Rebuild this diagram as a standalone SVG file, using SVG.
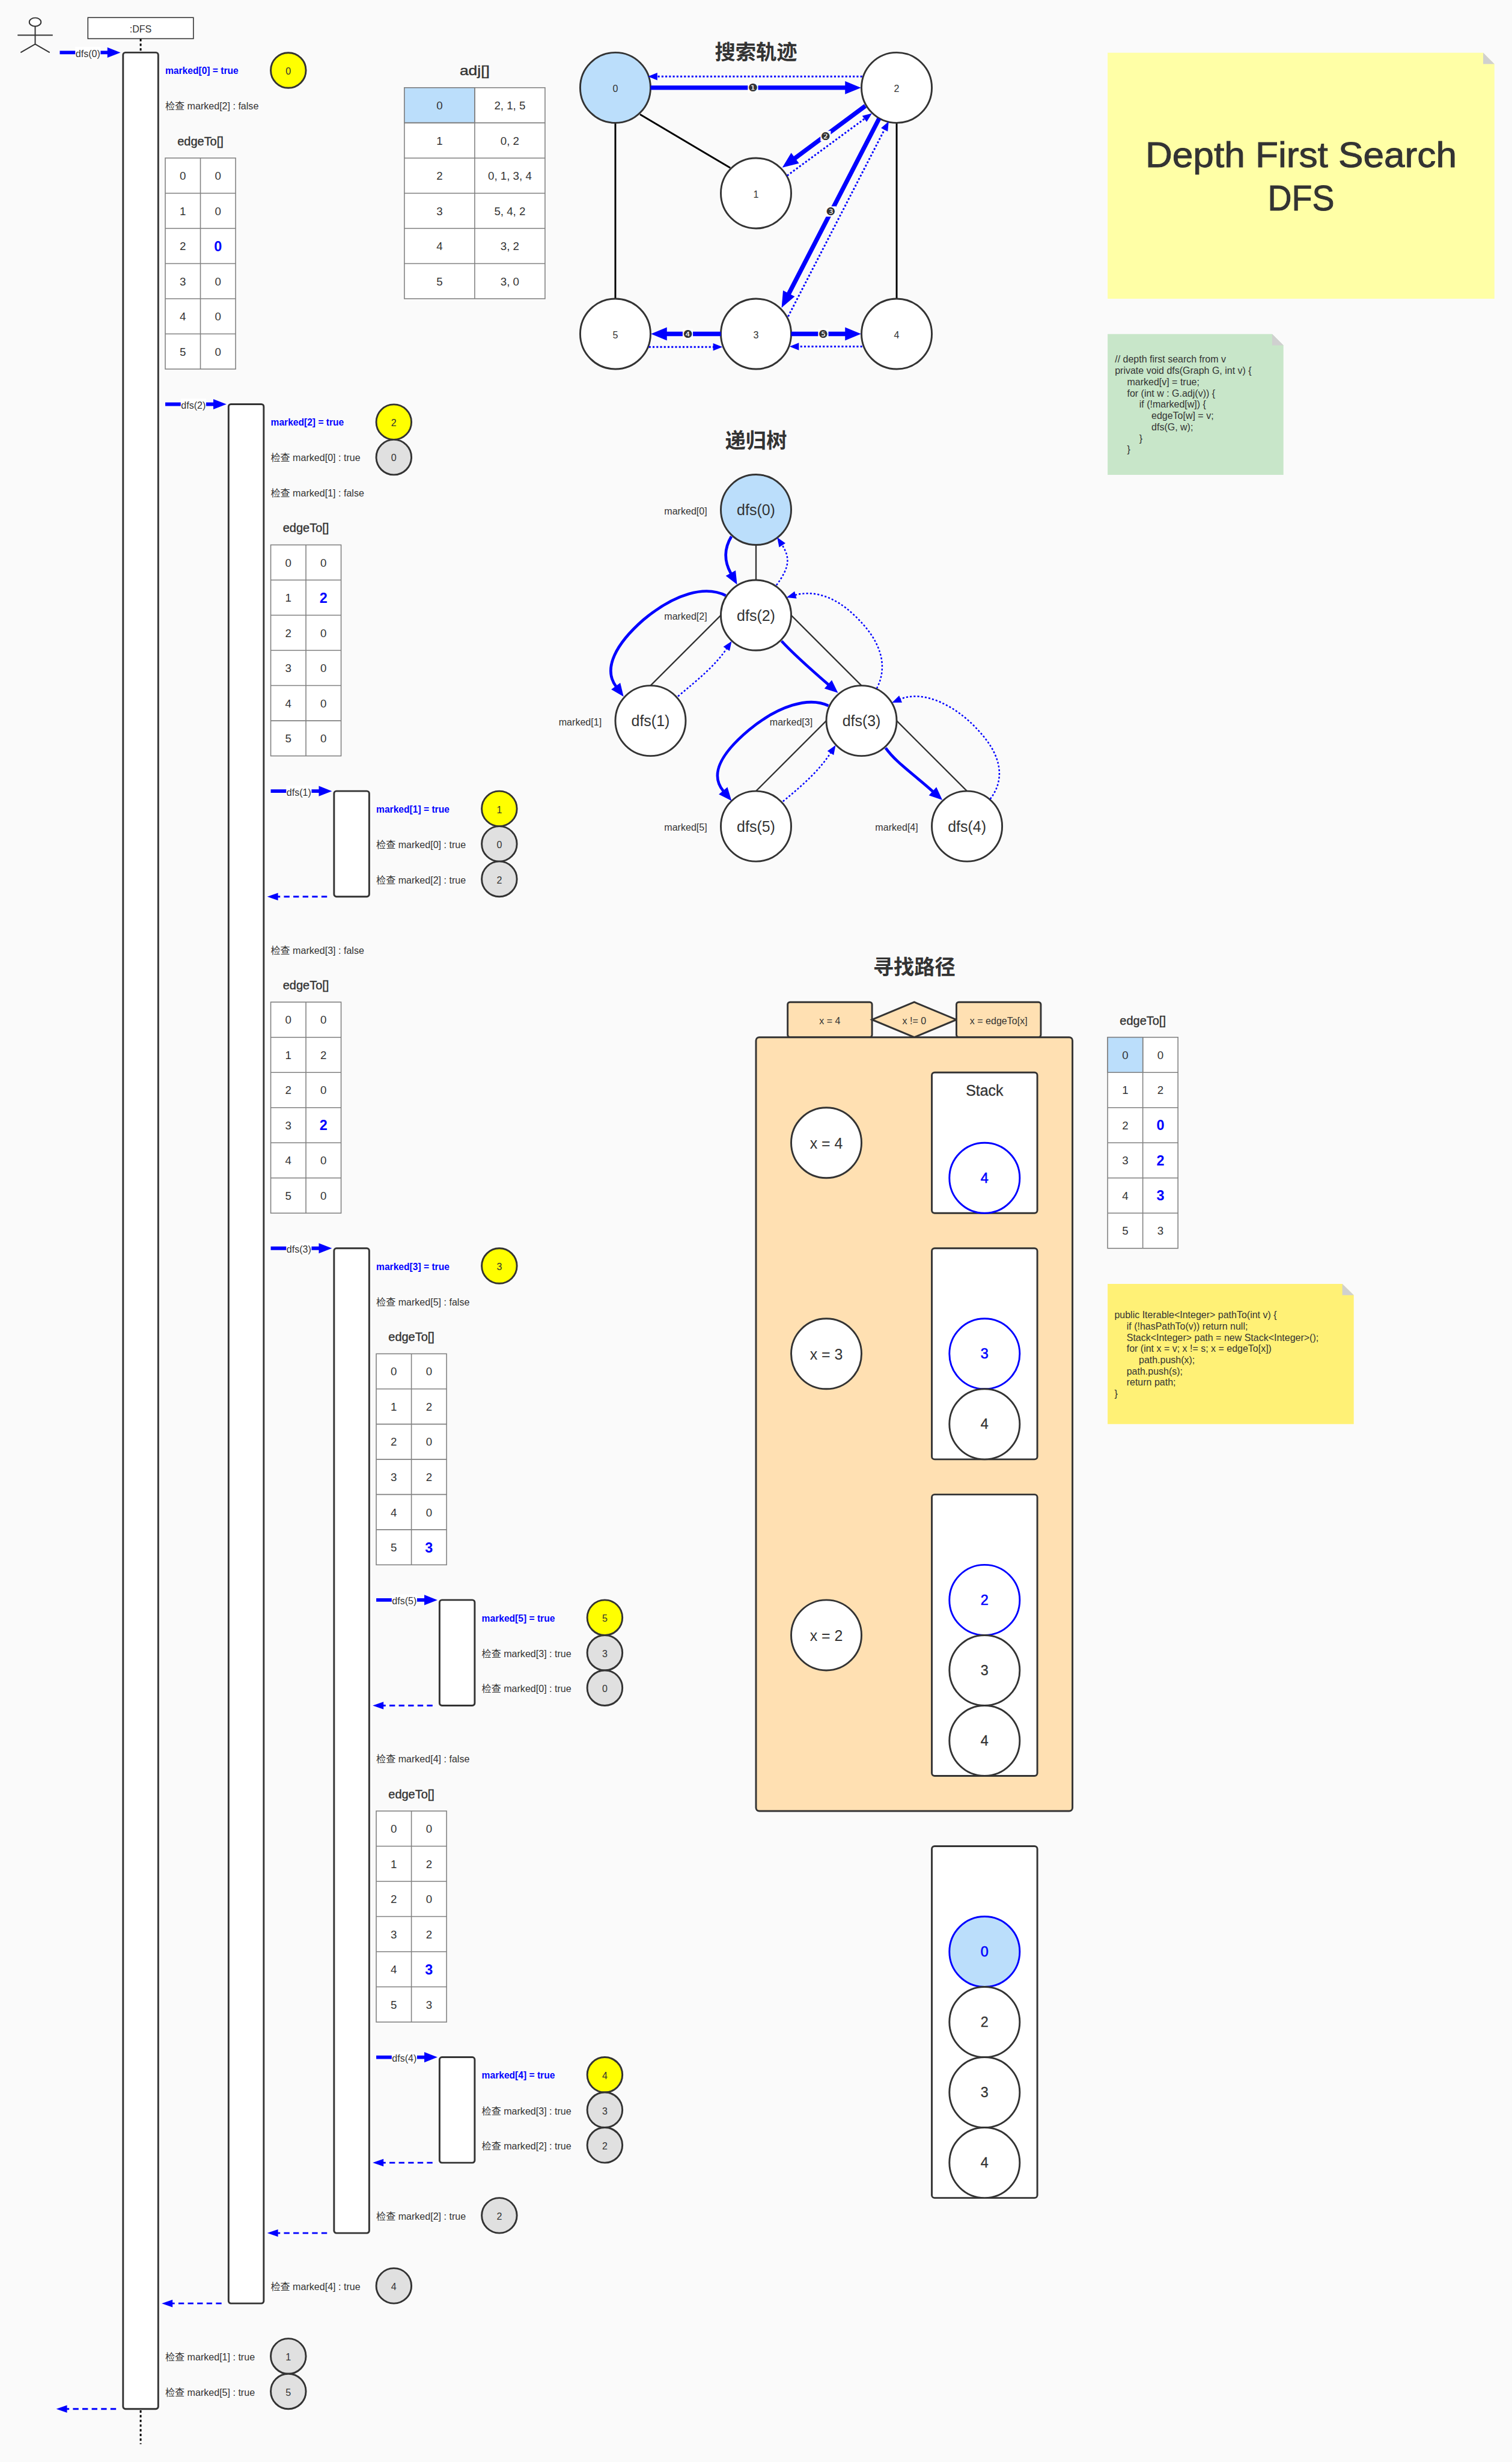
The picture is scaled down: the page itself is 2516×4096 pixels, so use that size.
<svg xmlns="http://www.w3.org/2000/svg" xmlns:xlink="http://www.w3.org/1999/xlink" width="2516" height="4096" viewBox="0 0 2516 4096">
<style>
text{font-family:"Liberation Sans","Noto Sans CJK SC",sans-serif;font-size:20.6px;fill:#333;dominant-baseline:central}
.m{text-anchor:middle}
.b{font-size:20px;font-weight:700;fill:#00f}
.c{font-size:24px;text-anchor:middle}
.v{font-size:30px;font-weight:700;fill:#00f;text-anchor:middle}
.h{font-size:25.6px;stroke:#333;stroke-width:.5;text-anchor:middle}
.ti{font-size:44px;font-weight:700;text-anchor:middle}
.n{font-size:32px;text-anchor:middle}
.d{font-size:30px;text-anchor:middle;stroke:#333;stroke-width:.4}
.db{font-size:30px;text-anchor:middle;fill:#00f;stroke:#00f;stroke-width:.8}
.k{font-size:20.5px}
.big{font-size:75px;text-anchor:middle;stroke:#333;stroke-width:1.2}
.num{font-family:"DejaVu Sans",sans-serif;font-size:23px;text-anchor:middle}
.ac{fill:#fff;stroke:#333;stroke-width:3.75}
.y{fill:#ff0;stroke:#333;stroke-width:3.75}
.g{fill:#e0e0e0;stroke:#333;stroke-width:3.75}
.w{fill:#fff;stroke:#333;stroke-width:3.75}
.o{fill:#ffe0b2;stroke:#333;stroke-width:3.75}
.bl{fill:#bbdefb;stroke:#333;stroke-width:3.75}
.bw{fill:#fff;stroke:#00f;stroke-width:3.75}
.tb{fill:#fff;stroke:#808080;stroke-width:2}
.lb{fill:#fff}
.e{fill:none;stroke:#000;stroke-width:3.75}
.e2{fill:none;stroke:#333;stroke-width:3}
.ll{fill:none;stroke:#000;stroke-width:3.75;stroke-dasharray:5 5}
.sq{fill:none;stroke:#00f;stroke-width:7.5;marker-end:url(#hs)}
.rt{fill:none;stroke:#00f;stroke-width:3.75;stroke-dasharray:12 8;marker-end:url(#hr)}
.th{fill:none;stroke:#00f;stroke-width:9.4;marker-end:url(#hb)}
.dt{fill:none;stroke:#00f;stroke-width:3.75;stroke-dasharray:4 4;marker-end:url(#hd)}
.tt{fill:none;stroke:#00f;stroke-width:6;marker-end:url(#ht)}
.ts{fill:none;stroke:#00f;stroke-width:3.2;stroke-dasharray:4 4;marker-end:url(#hd)}
</style>
<defs>
<marker id="hs" markerUnits="userSpaceOnUse" markerWidth="40" markerHeight="30" refX="1" refY="15" orient="auto" overflow="visible"><path d="M0 4L28 15L0 26z" fill="#00f"/></marker>
<marker id="hr" markerUnits="userSpaceOnUse" markerWidth="40" markerHeight="30" refX="1" refY="15" orient="auto" overflow="visible"><path d="M0 7L23 15L0 23z" fill="#00f"/></marker>
<marker id="hb" markerUnits="userSpaceOnUse" markerWidth="40" markerHeight="30" refX="1" refY="15" orient="auto" overflow="visible"><path d="M0 1L34 15L0 29z" fill="#00f"/></marker>
<marker id="hd" markerUnits="userSpaceOnUse" markerWidth="40" markerHeight="30" refX="1" refY="15" orient="auto" overflow="visible"><path d="M0 7L20 15L0 23z" fill="#00f"/></marker>
<marker id="ht" markerUnits="userSpaceOnUse" markerWidth="40" markerHeight="30" refX="1" refY="15" orient="auto" overflow="visible"><path d="M0 3L28 15L0 27z" fill="#00f"/></marker>
<g id="grid"><rect class="tb" width="150" height="450"/><path class="tb" d="M75 0V450M0 75H150M0 150H150M0 225H150M0 300H150M0 375H150"/></g>
</defs>
<rect width="2516" height="4096" fill="#fafafa"/>
<g transform="scale(0.78016)">

<g id="actor" fill="none" stroke="#333" stroke-width="2.5"><ellipse cx="75" cy="47" rx="12.5" ry="9" fill="#fff"/><path d="M75 56V94M37.500 75H112.500M44 112L75 94L106 112"/></g>
<g id="dfs-box"><rect x="187.500" y="37.500" width="225" height="45" fill="#fff" stroke="#333" stroke-width="2"/><text class="m" x="300" y="61">:DFS</text></g>

<g id="activations">
<rect class="ac" x="262.500" y="112" width="75" height="5025" rx="5"/>
<rect class="ac" x="487.500" y="862" width="75" height="4050" rx="5"/>
<rect class="ac" x="712.500" y="1687" width="75" height="225" rx="5"/>
<rect class="ac" x="712.500" y="2662" width="75" height="2100" rx="5"/>
<rect class="ac" x="937.500" y="3412" width="75" height="225" rx="5"/>
<rect class="ac" x="937.500" y="4387" width="75" height="225" rx="5"/>
</g>

<g id="seq-connectors">
<path class="ll" d="M300 83V112M300 5140V5212"/>
<path class="sq" d="M127.500 112H230"/><path class="sq" d="M352.500 862H456"/><path class="sq" d="M577.500 1687H681"/><path class="sq" d="M577.500 2662H681"/><path class="sq" d="M802.500 3412H906"/><path class="sq" d="M802.500 4387H906"/>
<path class="rt" d="M697.600 1912H592"/><path class="rt" d="M922.600 3637H817"/><path class="rt" d="M922.600 4612H817"/><path class="rt" d="M697.600 4762H592"/><path class="rt" d="M472.600 4912H367"/><path class="rt" d="M247.600 5137H142"/>
<rect class="lb" x="160.500" y="100" width="54" height="24"/><text class="m" x="187.500" y="114">dfs(0)</text>
<rect class="lb" x="385.500" y="850" width="54" height="24"/><text class="m" x="412.500" y="864">dfs(2)</text>
<rect class="lb" x="610.500" y="1675" width="54" height="24"/><text class="m" x="637.500" y="1689">dfs(1)</text>
<rect class="lb" x="610.500" y="2650" width="54" height="24"/><text class="m" x="637.500" y="2664">dfs(3)</text>
<rect class="lb" x="835.500" y="3400" width="54" height="24"/><text class="m" x="862.500" y="3414">dfs(5)</text>
<rect class="lb" x="835.500" y="4375" width="54" height="24"/><text class="m" x="862.500" y="4389">dfs(4)</text>
</g>

<g id="step-dfs0">
<text class="b" x="352.500" y="151">marked[0] = true</text>
<circle class="y" cx="615" cy="150" r="37.500"/><text class="m" x="615" y="151">0</text>
<text x="352.500" y="226">检查 marked[2] : false</text>
<text class="h" x="427.500" y="301">edgeTo[]</text>
<use href="#grid" x="352.500" y="337"/>
<text class="c" x="390" y="375">0</text><text class="c" x="465" y="375">0</text>
<text class="c" x="390" y="450">1</text><text class="c" x="465" y="450">0</text>
<text class="c" x="390" y="525">2</text><text class="v" x="465" y="525">0</text>
<text class="c" x="390" y="600">3</text><text class="c" x="465" y="600">0</text>
<text class="c" x="390" y="675">4</text><text class="c" x="465" y="675">0</text>
<text class="c" x="390" y="750">5</text><text class="c" x="465" y="750">0</text>
</g>

<g id="step-dfs2">
<text class="b" x="577.500" y="901">marked[2] = true</text>
<circle class="y" cx="840" cy="900" r="37.500"/><text class="m" x="840" y="901">2</text>
<text x="577.500" y="976">检查 marked[0] : true</text>
<circle class="g" cx="840" cy="975" r="37.500"/><text class="m" x="840" y="976">0</text>
<text x="577.500" y="1051">检查 marked[1] : false</text>
<text class="h" x="652.500" y="1126">edgeTo[]</text>
<use href="#grid" x="577.500" y="1162"/>
<text class="c" x="615" y="1200">0</text><text class="c" x="690" y="1200">0</text>
<text class="c" x="615" y="1275">1</text><text class="v" x="690" y="1275">2</text>
<text class="c" x="615" y="1350">2</text><text class="c" x="690" y="1350">0</text>
<text class="c" x="615" y="1425">3</text><text class="c" x="690" y="1425">0</text>
<text class="c" x="615" y="1500">4</text><text class="c" x="690" y="1500">0</text>
<text class="c" x="615" y="1575">5</text><text class="c" x="690" y="1575">0</text>
</g>

<g id="step-dfs1">
<text class="b" x="802.500" y="1726">marked[1] = true</text>
<circle class="y" cx="1065" cy="1724.500" r="37.500"/><text class="m" x="1065" y="1726">1</text>
<text x="802.500" y="1801">检查 marked[0] : true</text>
<circle class="g" cx="1065" cy="1799.500" r="37.500"/><text class="m" x="1065" y="1801">0</text>
<text x="802.500" y="1876">检查 marked[2] : true</text>
<circle class="g" cx="1065" cy="1874.500" r="37.500"/><text class="m" x="1065" y="1876">2</text>
</g>

<g id="step-dfs2b">
<text x="577.500" y="2026">检查 marked[3] : false</text>
<text class="h" x="652.500" y="2101">edgeTo[]</text>
<use href="#grid" x="577.500" y="2137"/>
<text class="c" x="615" y="2175">0</text><text class="c" x="690" y="2175">0</text>
<text class="c" x="615" y="2250">1</text><text class="c" x="690" y="2250">2</text>
<text class="c" x="615" y="2325">2</text><text class="c" x="690" y="2325">0</text>
<text class="c" x="615" y="2400">3</text><text class="v" x="690" y="2400">2</text>
<text class="c" x="615" y="2475">4</text><text class="c" x="690" y="2475">0</text>
<text class="c" x="615" y="2550">5</text><text class="c" x="690" y="2550">0</text>
</g>

<g id="step-dfs3">
<text class="b" x="802.500" y="2701">marked[3] = true</text>
<circle class="y" cx="1065" cy="2699.500" r="37.500"/><text class="m" x="1065" y="2701">3</text>
<text x="802.500" y="2776">检查 marked[5] : false</text>
<text class="h" x="877.500" y="2851">edgeTo[]</text>
<use href="#grid" x="802.500" y="2887"/>
<text class="c" x="840" y="2925">0</text><text class="c" x="915" y="2925">0</text>
<text class="c" x="840" y="3000">1</text><text class="c" x="915" y="3000">2</text>
<text class="c" x="840" y="3075">2</text><text class="c" x="915" y="3075">0</text>
<text class="c" x="840" y="3150">3</text><text class="c" x="915" y="3150">2</text>
<text class="c" x="840" y="3225">4</text><text class="c" x="915" y="3225">0</text>
<text class="c" x="840" y="3300">5</text><text class="v" x="915" y="3300">3</text>
</g>

<g id="step-dfs5">
<text class="b" x="1027.500" y="3451">marked[5] = true</text>
<circle class="y" cx="1290" cy="3449.500" r="37.500"/><text class="m" x="1290" y="3451">5</text>
<text x="1027.500" y="3526">检查 marked[3] : true</text>
<circle class="g" cx="1290" cy="3524.500" r="37.500"/><text class="m" x="1290" y="3526">3</text>
<text x="1027.500" y="3601">检查 marked[0] : true</text>
<circle class="g" cx="1290" cy="3599.500" r="37.500"/><text class="m" x="1290" y="3601">0</text>
</g>

<g id="step-dfs3b">
<text x="802.500" y="3751">检查 marked[4] : false</text>
<text class="h" x="877.500" y="3826">edgeTo[]</text>
<use href="#grid" x="802.500" y="3862"/>
<text class="c" x="840" y="3900">0</text><text class="c" x="915" y="3900">0</text>
<text class="c" x="840" y="3975">1</text><text class="c" x="915" y="3975">2</text>
<text class="c" x="840" y="4050">2</text><text class="c" x="915" y="4050">0</text>
<text class="c" x="840" y="4125">3</text><text class="c" x="915" y="4125">2</text>
<text class="c" x="840" y="4200">4</text><text class="v" x="915" y="4200">3</text>
<text class="c" x="840" y="4275">5</text><text class="c" x="915" y="4275">3</text>
</g>

<g id="step-dfs4">
<text class="b" x="1027.500" y="4426">marked[4] = true</text>
<circle class="y" cx="1290" cy="4424.500" r="37.500"/><text class="m" x="1290" y="4426">4</text>
<text x="1027.500" y="4501">检查 marked[3] : true</text>
<circle class="g" cx="1290" cy="4499.500" r="37.500"/><text class="m" x="1290" y="4501">3</text>
<text x="1027.500" y="4576">检查 marked[2] : true</text>
<circle class="g" cx="1290" cy="4574.500" r="37.500"/><text class="m" x="1290" y="4576">2</text>
</g>

<g id="step-returns">
<text x="802.500" y="4726">检查 marked[2] : true</text>
<circle class="g" cx="1065" cy="4724.500" r="37.500"/><text class="m" x="1065" y="4726">2</text>
<text x="577.500" y="4876">检查 marked[4] : true</text>
<circle class="g" cx="840" cy="4874.500" r="37.500"/><text class="m" x="840" y="4876">4</text>
<text x="352.500" y="5026">检查 marked[1] : true</text>
<circle class="g" cx="615" cy="5024.500" r="37.500"/><text class="m" x="615" y="5026">1</text>
<text x="352.500" y="5101">检查 marked[5] : true</text>
<circle class="g" cx="615" cy="5099.500" r="37.500"/><text class="m" x="615" y="5101">5</text>
</g>

<g id="adj">
<text class="h" x="1012.500" y="150" style="font-size:28px" textLength="64" lengthAdjust="spacingAndGlyphs">adj[]</text>
<rect class="tb" x="862.500" y="187" width="300" height="450"/>
<rect class="tb" x="862.500" y="187" width="150" height="75" style="fill:#bbdefb"/>
<path class="tb" d="M1012.500 187V637M862.500 262H1162.500M862.500 337H1162.500M862.500 412H1162.500M862.500 487H1162.500M862.500 562H1162.500"/>
<text class="c" x="937.500" y="225">0</text><text class="c" x="1087.500" y="225">2, 1, 5</text>
<text class="c" x="937.500" y="300">1</text><text class="c" x="1087.500" y="300">0, 2</text>
<text class="c" x="937.500" y="375">2</text><text class="c" x="1087.500" y="375">0, 1, 3, 4</text>
<text class="c" x="937.500" y="450">3</text><text class="c" x="1087.500" y="450">5, 4, 2</text>
<text class="c" x="937.500" y="525">4</text><text class="c" x="1087.500" y="525">3, 2</text>
<text class="c" x="937.500" y="600">5</text><text class="c" x="1087.500" y="600">3, 0</text>
</g>

<text class="ti" x="1612.500" y="112">搜索轨迹</text>
<g id="graph-connectors">
<path class="e" d="M1312.500 262V637M1912.500 262V637M1365 244L1557.600 358"/>
</g>
<g id="g0"><circle class="bl" cx="1312.500" cy="187" r="75"/><text class="m" x="1312.500" y="189">0</text></g>
<g id="g2"><circle class="w" cx="1912.500" cy="187" r="75"/><text class="m" x="1912.500" y="189">2</text></g>
<g id="g1"><circle class="w" cx="1612.500" cy="412" r="75"/><text class="m" x="1612.500" y="414">1</text></g>
<g id="g5"><circle class="w" cx="1312.500" cy="712" r="75"/><text class="m" x="1312.500" y="714">5</text></g>
<g id="g3"><circle class="w" cx="1612.500" cy="712" r="75"/><text class="m" x="1612.500" y="714">3</text></g>
<g id="g4"><circle class="w" cx="1912.500" cy="712" r="75"/><text class="m" x="1912.500" y="714">4</text></g>
<g id="graph-arrows">
<path class="th" d="M1387.500 187H1803.500"/>
<path class="th" d="M1845.700 226L1695.100 337.700"/>
<path class="th" d="M1875 253L1682.200 626.800"/>
<path class="th" d="M1537.500 712H1421.500"/>
<path class="th" d="M1687.500 712H1803.500"/>
<path class="dt" d="M1839 163H1401"/>
<path class="dt" d="M1679 374.500L1844.600 252.800"/>
<path class="dt" d="M1681 675L1886.800 275.800"/>
<path class="dt" d="M1384 740H1522"/>
<path class="dt" d="M1839 739H1703"/>
<rect class="lb" x="1595" y="176" width="22" height="22"/><text class="num" x="1606" y="187">❶</text>
<rect class="lb" x="1750" y="279" width="22" height="22"/><text class="num" x="1761" y="290">❷</text>
<rect class="lb" x="1761" y="440" width="22" height="22"/><text class="num" x="1772" y="451">❸</text>
<rect class="lb" x="1456" y="701" width="22" height="22"/><text class="num" x="1467.500" y="712">❹</text>
<rect class="lb" x="1745" y="701" width="22" height="22"/><text class="num" x="1756" y="712">❺</text>
</g>

<text class="ti" x="1612.500" y="939">递归树</text>
<g id="tree-lines"><path class="e2" d="M1612.500 1162V1237M1537.500 1312L1387.500 1462M1687.500 1312L1837.500 1462M1762.500 1537L1612.500 1687M1912.500 1537L2062.500 1687"/></g>
<g id="t0"><circle class="bl" cx="1612.500" cy="1087" r="75"/><text class="n" x="1612.500" y="1087">dfs(0)</text></g>
<g id="t2"><circle class="w" cx="1612.500" cy="1312" r="75"/><text class="n" x="1612.500" y="1312">dfs(2)</text></g>
<g id="t1"><circle class="w" cx="1387.500" cy="1537" r="75"/><text class="n" x="1387.500" y="1537">dfs(1)</text></g>
<g id="t3"><circle class="w" cx="1837.500" cy="1537" r="75"/><text class="n" x="1837.500" y="1537">dfs(3)</text></g>
<g id="t5"><circle class="w" cx="1612.500" cy="1762" r="75"/><text class="n" x="1612.500" y="1762">dfs(5)</text></g>
<g id="t4"><circle class="w" cx="2062.500" cy="1762" r="75"/><text class="n" x="2062.500" y="1762">dfs(4)</text></g>
<g id="tree-labels">
<text class="m" x="1462.500" y="1089">marked[0]</text>
<text class="m" x="1462.500" y="1314">marked[2]</text>
<text class="m" x="1237.500" y="1539">marked[1]</text>
<text class="m" x="1687.500" y="1539">marked[3]</text>
<text class="m" x="1462.500" y="1764">marked[5]</text>
<text class="m" x="1912.500" y="1764">marked[4]</text>
</g>
<g id="tree-arrows">
<path class="tt" d="M1560 1144C1543 1172 1545 1198 1559 1223"/>
<path class="tt" d="M1548 1270C1505 1248 1440 1265 1372 1322C1315 1372 1285 1425 1314 1464"/>
<path class="tt" d="M1667 1367C1690 1392 1730 1428 1767 1460"/>
<path class="tt" d="M1767 1505C1725 1485 1660 1505 1597 1557C1540 1605 1512 1650 1543 1687"/>
<path class="tt" d="M1889 1595C1910 1625 1950 1652 1990 1688"/>
<path class="ts" d="M1656 1248C1684 1210 1686 1190 1668 1162"/>
<path class="ts" d="M1446 1485C1490 1448 1525 1420 1550 1383"/>
<path class="ts" d="M1870 1468C1895 1420 1880 1365 1820 1310C1780 1272 1735 1258 1696 1269"/>
<path class="ts" d="M1670 1709C1715 1672 1748 1642 1772 1605"/>
<path class="ts" d="M2112 1704C2142 1665 2140 1615 2088 1559C2040 1505 1970 1470 1920 1491"/>
</g>

<g id="note-title">
<path d="M2362.500 112.500H3163.500L3187.500 136.500V637H2362.500z" fill="#ffffa6"/><path d="M3163.500 112.500L3187.500 136.500H3163.500z" fill="#d0d0d0"/>
<text class="big" x="2775" y="330" textLength="664" lengthAdjust="spacingAndGlyphs">Depth First Search</text>
<text class="big" x="2775" y="422" textLength="142" lengthAdjust="spacingAndGlyphs">DFS</text>
</g>
<g id="note-dfs">
<path d="M2362.500 712.500H2713.500L2737.500 736.500V1012.500H2362.500z" fill="#c8e6c9"/><path d="M2713.500 712.500L2737.500 736.500H2713.500z" fill="#d0d0d0"/>
<text class="k" x="2378" y="766.500">// depth first search from v</text>
<text class="k" x="2378" y="790.500">private void dfs(Graph G, int v) {</text>
<text class="k" x="2404" y="814.500">marked[v] = true;</text>
<text class="k" x="2404" y="838.500">for (int w : G.adj(v)) {</text>
<text class="k" x="2430" y="862.500">if (!marked[w]) {</text>
<text class="k" x="2456" y="886.500">edgeTo[w] = v;</text>
<text class="k" x="2456" y="910.500">dfs(G, w);</text>
<text class="k" x="2430" y="934.500">}</text>
<text class="k" x="2404" y="958.500">}</text>
</g>

<text class="ti" x="1950" y="2063">寻找路径</text>
<g id="loop-head">
<rect class="o" x="1680" y="2137" width="180" height="75" rx="5"/><text class="m" x="1770" y="2177">x = 4</text>
<path class="o" d="M1860 2174.500L1950 2137L2040 2174.500L1950 2212z"/><text class="m" x="1950" y="2177">x != 0</text>
<rect class="o" x="2040" y="2137" width="180" height="75" rx="5"/><text class="m" x="2130" y="2177">x = edgeTo[x]</text>
</g>
<g id="loop-body"><rect class="o" x="1612.500" y="2212" width="675" height="1650" rx="7"/></g>
<g id="x4"><circle class="w" cx="1762.500" cy="2437" r="75"/><text class="n" x="1762.500" y="2438">x = 4</text></g>
<g id="x3"><circle class="w" cx="1762.500" cy="2887" r="75"/><text class="n" x="1762.500" y="2888">x = 3</text></g>
<g id="x2"><circle class="w" cx="1762.500" cy="3487" r="75"/><text class="n" x="1762.500" y="3488">x = 2</text></g>
<g id="stack1"><rect class="w" x="1987.500" y="2287" width="225" height="300" rx="6"/><text class="d" x="2100" y="2325" style="font-size:32px">Stack</text>
<circle class="bw" cx="2100" cy="2512" r="75"/><text class="db" x="2100" y="2512">4</text></g>
<g id="stack2"><rect class="w" x="1987.500" y="2662" width="225" height="450" rx="6"/>
<circle class="bw" cx="2100" cy="2887" r="75"/><text class="db" x="2100" y="2887">3</text>
<circle class="w" cx="2100" cy="3037" r="75"/><text class="d" x="2100" y="3037">4</text></g>
<g id="stack3"><rect class="w" x="1987.500" y="3187" width="225" height="600" rx="6"/>
<circle class="bw" cx="2100" cy="3412" r="75"/><text class="db" x="2100" y="3412">2</text>
<circle class="w" cx="2100" cy="3562" r="75"/><text class="d" x="2100" y="3562">3</text>
<circle class="w" cx="2100" cy="3712" r="75"/><text class="d" x="2100" y="3712">4</text></g>
<g id="stack4"><rect class="w" x="1987.500" y="3937" width="225" height="750" rx="6"/>
<circle class="bl" cx="2100" cy="4162" r="75" style="stroke:#00f"/><text class="db" x="2100" y="4162">0</text>
<circle class="w" cx="2100" cy="4312" r="75"/><text class="d" x="2100" y="4312">2</text>
<circle class="w" cx="2100" cy="4462" r="75"/><text class="d" x="2100" y="4462">3</text>
<circle class="w" cx="2100" cy="4612" r="75"/><text class="d" x="2100" y="4612">4</text></g>

<g id="edgeto-final">
<text class="h" x="2437.500" y="2176">edgeTo[]</text>
<use href="#grid" x="2362.500" y="2212"/>
<rect class="tb" x="2362.500" y="2212" width="75" height="75" style="fill:#bbdefb"/>
<text class="c" x="2400" y="2250">0</text><text class="c" x="2475" y="2250">0</text>
<text class="c" x="2400" y="2325">1</text><text class="c" x="2475" y="2325">2</text>
<text class="c" x="2400" y="2400">2</text><text class="v" x="2475" y="2400">0</text>
<text class="c" x="2400" y="2475">3</text><text class="v" x="2475" y="2475">2</text>
<text class="c" x="2400" y="2550">4</text><text class="v" x="2475" y="2550">3</text>
<text class="c" x="2400" y="2625">5</text><text class="c" x="2475" y="2625">3</text>
</g>
<g id="note-path">
<path d="M2362.500 2738H2863L2887.500 2762V3037H2362.500z" fill="#fff176"/><path d="M2863 2738L2887.500 2762H2863z" fill="#d0d0d0"/>
<text class="k" x="2377" y="2804">public Iterable&lt;Integer&gt; pathTo(int v) {</text>
<text class="k" x="2403" y="2828">if (!hasPathTo(v)) return null;</text>
<text class="k" x="2403" y="2852">Stack&lt;Integer&gt; path = new Stack&lt;Integer&gt;();</text>
<text class="k" x="2403" y="2876">for (int x = v; x != s; x = edgeTo[x])</text>
<text class="k" x="2429" y="2900">path.push(x);</text>
<text class="k" x="2403" y="2924">path.push(s);</text>
<text class="k" x="2403" y="2948">return path;</text>
<text class="k" x="2377" y="2972">}</text>
</g>
</g>
</svg>
